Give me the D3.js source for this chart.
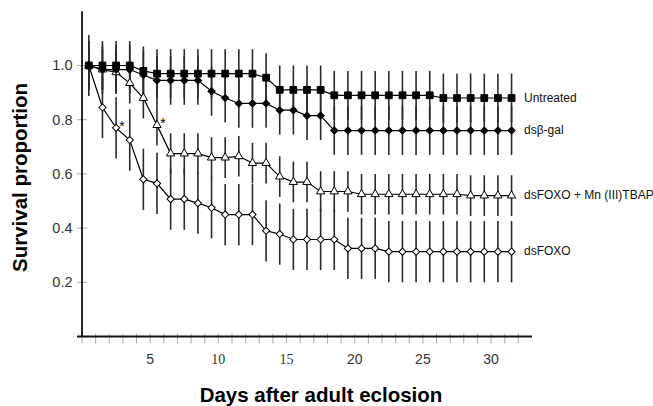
<!DOCTYPE html>
<html>
<head>
<meta charset="utf-8">
<script src="https://cdn.jsdelivr.net/npm/d3@7"></script>
<style>
  body { margin: 0; background: #fff; }
  svg { display: block; }
</style>
</head>
<body>
<svg width="653" height="406"></svg>
<script>
// days at which survival was scored (x positions of the markers)
const days = [0.5, 1.5, 2.5, 3.5, 4.5, 5.5, 6.5, 7.5, 8.5, 9.5, 10.5, 11.5, 12.5, 13.5, 14.5, 15.5,
              16.5, 17.5, 18.5, 19.5, 20.5, 21.5, 22.5, 23.5, 24.5, 25.5, 26.5, 27.5, 28.5, 29.5, 30.5, 31.5];

const untreated = [1.0, 1.0, 1.0, 1.0, 0.98, 0.97, 0.97, 0.97, 0.97, 0.97, 0.97, 0.97, 0.97, 0.955, 0.91, 0.91,
                   0.91, 0.91, 0.89, 0.89, 0.89, 0.89, 0.89, 0.89, 0.89, 0.89, 0.88, 0.88, 0.88, 0.88, 0.88, 0.88];
const dsBgal = [1.0, 0.985, 0.985, 0.985, 0.965, 0.945, 0.945, 0.945, 0.945, 0.905, 0.88, 0.86, 0.86, 0.86, 0.835, 0.835,
                0.815, 0.815, 0.76, 0.76, 0.76, 0.76, 0.76, 0.76, 0.76, 0.76, 0.76, 0.76, 0.76, 0.76, 0.76, 0.76];
const dsFoxoTbap = [1.0, 0.985, 0.975, 0.935, 0.88, 0.78, 0.675, 0.675, 0.675, 0.66, 0.66, 0.665, 0.64, 0.64, 0.59, 0.57,
                    0.57, 0.535, 0.535, 0.535, 0.525, 0.525, 0.525, 0.525, 0.525, 0.525, 0.525, 0.525, 0.52, 0.52, 0.52, 0.52];
const dsFoxo = [1.0, 0.845, 0.77, 0.725, 0.58, 0.565, 0.507, 0.507, 0.492, 0.475, 0.45, 0.45, 0.45, 0.39, 0.378, 0.358,
                0.358, 0.358, 0.358, 0.325, 0.325, 0.325, 0.313, 0.313, 0.313, 0.313, 0.313, 0.313, 0.313, 0.313, 0.313, 0.313];

const seriesNames = ["Untreated", "dsβ-gal", "dsFOXO + Mn (III)TBAP", "dsFOXO"];
const seriesErrors = [0.09, 0.09, 0.075, 0.113];   // half-length of error bars
const xTickLabels = [5, 10, 15, 20, 25, 30];
const yTickLabels = [0.2, 0.4, 0.6, 0.8, 1.0];
// significance stars: [series index, point index]
const stars = [[3, 2], [2, 5]];

const svg = d3.select("svg");

const x = d3.scaleLinear().domain([0, 33]).range([82, 532]);
const y = d3.scaleLinear().domain([0, 1.2]).range([336.5, 11.3]);

const series = [untreated, dsBgal, dsFoxoTbap, dsFoxo].map((vals, i) => ({
    name: seriesNames[i],
    err: seriesErrors[i],
    points: vals.map((v, j) => ({ day: days[j], v: v }))
}));

// marker shapes
const sq = d3.symbol().type(d3.symbolSquare).size(46)();
const dia = d3.symbol().type(d3.symbolSquare).size(26)();
const tri = d3.symbol().type(d3.symbolTriangle).size(30)();
const markers = [
    { d: sq, rot: 0, fill: "#000" },
    { d: dia, rot: 45, fill: "#000" },
    { d: tri, rot: 0, fill: "#fff" },
    { d: dia, rot: 45, fill: "#fff" }
];

// axes (light ticks crossing the black axis lines)
const dayTicks = d3.range(0, 33);
svg.append("g").selectAll("line")
    .data(dayTicks)
    .enter().append("line")
    .attr("x1", d => x(d)).attr("x2", d => x(d))
    .attr("y1", y(0) - 3).attr("y2", y(0) + 7)
    .attr("stroke", "#aaa").attr("stroke-width", 1);

svg.append("g").selectAll("line")
    .data(yTickLabels)
    .enter().append("line")
    .attr("x1", x(0) - 5).attr("x2", x(0) + 5)
    .attr("y1", d => y(d)).attr("y2", d => y(d))
    .attr("stroke", "#aaa").attr("stroke-width", 1);

svg.append("line")
    .attr("x1", x(0)).attr("x2", x(0))
    .attr("y1", y(0)).attr("y2", y(1.2))
    .attr("stroke", "#111").attr("stroke-width", 1.8);
svg.append("line")
    .attr("x1", x(0) - 5).attr("x2", x(33))
    .attr("y1", y(0)).attr("y2", y(0))
    .attr("stroke", "#111").attr("stroke-width", 1.8);

svg.append("g").selectAll("text")
    .data(yTickLabels)
    .enter().append("text")
    .attr("x", 72.5).attr("y", d => y(d) + 4.8)
    .attr("text-anchor", "end")
    .attr("font-family", "Liberation Sans, Arial, sans-serif")
    .attr("font-size", 14.5).attr("fill", "#333")
    .text(d => d.toFixed(1));

// 10 and 15 are set in a serif face in the original
svg.append("g").selectAll("text")
    .data(xTickLabels)
    .enter().append("text")
    .attr("x", d => x(d)).attr("y", 363.5)
    .attr("text-anchor", "middle")
    .attr("font-family", d => (d === 10 || d === 15) ? "Liberation Serif, Times New Roman, serif" : "Liberation Sans, Arial, sans-serif")
    .attr("font-size", 14).attr("fill", "#333")
    .text(d => d);

// error bars
series.forEach(s => {
    svg.append("g").selectAll("line")
        .data(s.points)
        .enter().append("line")
        .attr("x1", d => x(d.day)).attr("x2", d => x(d.day))
        .attr("y1", d => y(d.v + s.err)).attr("y2", d => y(d.v - s.err))
        .attr("stroke", "#2a2a2a").attr("stroke-width", 1.6);
});

const line = d3.line().x(d => x(d.day)).y(d => y(d.v));

// draw bottom series first so Untreated ends up on top
[3, 2, 1, 0].forEach(i => {
    const s = series[i];
    const m = markers[i];
    svg.append("path")
        .attr("d", line(s.points))
        .attr("fill", "none").attr("stroke", "#000").attr("stroke-width", 1.2);
    svg.append("g").selectAll("path")
        .data(s.points)
        .enter().append("path")
        .attr("d", m.d)
        .attr("transform", d => `translate(${x(d.day)},${y(d.v)}) rotate(${m.rot})`)
        .attr("fill", m.fill).attr("stroke", "#000").attr("stroke-width", 1);

    const last = s.points[s.points.length - 1];
    svg.append("text")
        .attr("x", 524).attr("y", y(last.v) + 3.5)
        .attr("font-family", "Liberation Sans, Arial, sans-serif")
        .attr("font-size", 12).attr("fill", "#111")
        .text(s.name);
});

svg.append("g").selectAll("text")
    .data(stars)
    .enter().append("text")
    .attr("x", d => x(series[d[0]].points[d[1]].day) + 6)
    .attr("y", d => y(series[d[0]].points[d[1]].v) + 3)
    .attr("text-anchor", "middle")
    .attr("font-family", "Liberation Sans, Arial, sans-serif")
    .attr("font-size", 14).attr("fill", "#000")
    .text("*");

// axis titles
svg.append("text")
    .attr("transform", "translate(27,177.5) rotate(-90)")
    .attr("text-anchor", "middle")
    .attr("font-family", "Liberation Sans, Arial, sans-serif")
    .attr("font-weight", "bold").attr("font-size", 20.5).attr("fill", "#000")
    .text("Survival proportion");

svg.append("text")
    .attr("x", 321).attr("y", 402)
    .attr("text-anchor", "middle")
    .attr("font-family", "Liberation Sans, Arial, sans-serif")
    .attr("font-weight", "bold").attr("font-size", 20.5).attr("fill", "#000")
    .text("Days after adult eclosion");
</script>
</body>
</html>
